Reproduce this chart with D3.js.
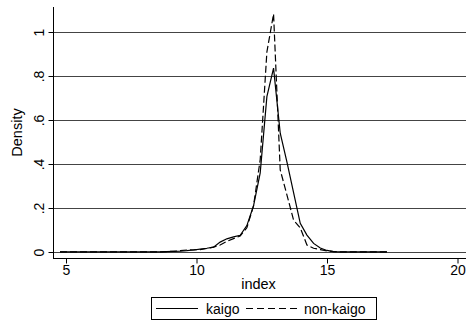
<!DOCTYPE html>
<html>
<head>
<meta charset="utf-8">
<script src="https://cdn.jsdelivr.net/npm/d3@7"></script>
<style>
  html, body { margin: 0; padding: 0; background: #fff; }
  svg { display: block; font-family: "Liberation Sans", Arial, sans-serif; }
</style>
</head>
<body>
<svg id="chart" width="474" height="322"></svg>
<script>
// Kernel density estimates of the index, evaluated on a 50-point grid
const gridStart = 4.77;
const gridStep = 0.2557;
const kaigo = [
  0.001, 0.001, 0.001, 0.001, 0.001, 0.001, 0.001, 0.001, 0.001, 0.001,
  0.001, 0.001, 0.001, 0.001, 0.001, 0.001, 0.002, 0.003, 0.004, 0.006,
  0.009, 0.013, 0.017, 0.022, 0.045, 0.060, 0.069, 0.076, 0.120, 0.210,
  0.360, 0.706, 0.836, 0.540, 0.410, 0.270, 0.130, 0.077, 0.039, 0.018,
  0.007, 0.002, 0.001, 0.001, 0.001, 0.001, 0.001, 0.001, 0.001, 0.001
];
const nonKaigo = [
  0.001, 0.001, 0.001, 0.001, 0.001, 0.001, 0.001, 0.001, 0.001, 0.001,
  0.001, 0.001, 0.001, 0.001, 0.001, 0.001, 0.002, 0.003, 0.006, 0.009,
  0.010, 0.011, 0.016, 0.022, 0.032, 0.048, 0.061, 0.073, 0.110, 0.210,
  0.420, 0.909, 1.082, 0.373, 0.260, 0.145, 0.110, 0.032, 0.017, 0.011,
  0.005, 0.002, 0.001, 0.001, 0.001, 0.001, 0.001, 0.001, 0.001, 0.001
];
const xTicks = [5, 10, 15, 20];
const yTicks = [0, 0.2, 0.4, 0.6, 0.8, 1];
const yTickLabels = ["0", ".2", ".4", ".6", ".8", "1"];
const seriesNames = ["kaigo", "non-kaigo"];

const svg = d3.select("#chart");
const plotLeft = 53, plotRight = 466, plotTop = 7, plotBottom = 258;

const x = d3.scaleLinear().domain([5, 20]).range([66, 457.5]);
const y = d3.scaleLinear().domain([0, 1]).range([252, 32]);

// horizontal grid lines
svg.append("g").selectAll("line").data(yTicks).join("line")
  .attr("x1", plotLeft).attr("x2", plotRight)
  .attr("y1", d => Math.round(y(d)) + 0.5).attr("y2", d => Math.round(y(d)) + 0.5)
  .attr("stroke", "#444").attr("stroke-width", 1);

// y axis
const yAxis = d3.axisLeft(y).tickValues(yTicks)
  .tickFormat((d, i) => yTickLabels[i]).tickSize(5).tickPadding(0);
const gy = svg.append("g").attr("transform", `translate(${plotLeft + 0.5},0)`).call(yAxis);
gy.select(".domain").remove();
gy.selectAll(".tick line").attr("stroke", "#000");
gy.selectAll(".tick text")
  .attr("font-size", 14).attr("fill", "#000")
  .attr("text-anchor", "middle").attr("dy", null).attr("x", null)
  .attr("transform", "translate(-9.5,0) rotate(-90)");
svg.append("line")
  .attr("x1", plotLeft + 0.5).attr("x2", plotLeft + 0.5)
  .attr("y1", plotTop).attr("y2", plotBottom + 0.5)
  .attr("stroke", "#000");

// x axis
const xAxis = d3.axisBottom(x).tickValues(xTicks).tickFormat(d3.format("d"))
  .tickSize(5).tickPadding(2);
const gx = svg.append("g").attr("transform", `translate(0,${plotBottom + 0.5})`).call(xAxis);
gx.select(".domain").remove();
gx.selectAll(".tick line").attr("stroke", "#000");
gx.selectAll(".tick text").attr("font-size", 14).attr("fill", "#000");
svg.append("line")
  .attr("x1", plotLeft).attr("x2", plotRight)
  .attr("y1", plotBottom + 0.5).attr("y2", plotBottom + 0.5)
  .attr("stroke", "#000");

// axis titles
svg.append("text").attr("x", (plotLeft + plotRight) / 2 - 1).attr("y", 289)
  .attr("text-anchor", "middle").attr("font-size", 14.5).text("index");
svg.append("text").attr("transform", `translate(22,${(plotTop + plotBottom) / 2}) rotate(-90)`)
  .attr("text-anchor", "middle").attr("font-size", 14.5).text("Density");

// density curves
const line = d3.line()
  .x((d, i) => x(gridStart + i * gridStep))
  .y(d => y(d));
svg.append("path").datum(kaigo).attr("d", line)
  .attr("fill", "none").attr("stroke", "#000").attr("stroke-width", 1.2);
svg.append("path").datum(nonKaigo).attr("d", line)
  .attr("fill", "none").attr("stroke", "#000").attr("stroke-width", 1.2)
  .attr("stroke-dasharray", "7,3");

// legend
const lg = svg.append("g");
lg.append("rect").attr("x", 151.5).attr("y", 297.5).attr("width", 225).attr("height", 22)
  .attr("fill", "#fff").attr("stroke", "#000");
lg.append("line").attr("x1", 156).attr("x2", 198).attr("y1", 308.5).attr("y2", 308.5)
  .attr("stroke", "#000").attr("stroke-width", 1.2);
lg.append("text").attr("x", 206).attr("y", 313.5).attr("font-size", 14).text(seriesNames[0]);
lg.append("line").attr("x1", 246).attr("x2", 298).attr("y1", 308.5).attr("y2", 308.5)
  .attr("stroke", "#000").attr("stroke-width", 1.2).attr("stroke-dasharray", "7,4");
lg.append("text").attr("x", 304).attr("y", 313.5).attr("font-size", 14).text(seriesNames[1]);
</script>
</body>
</html>
